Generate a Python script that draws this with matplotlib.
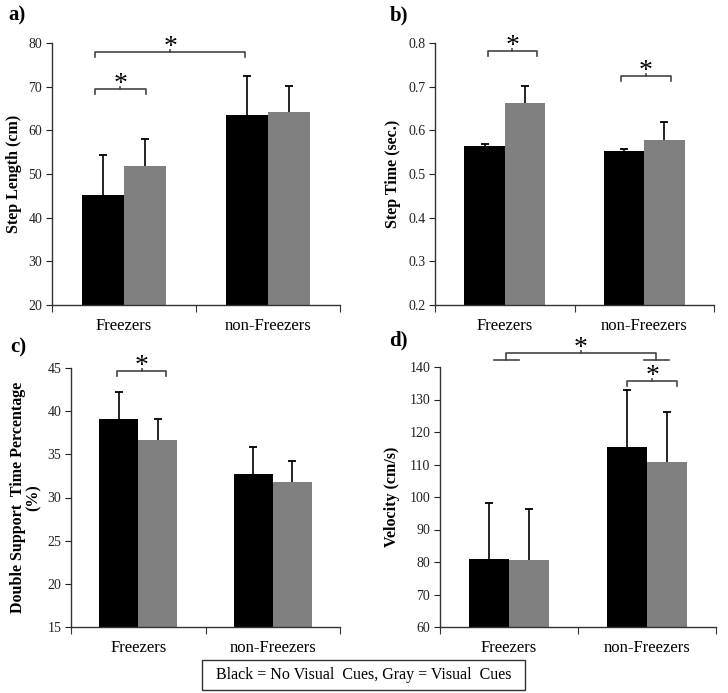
import numpy as np
import matplotlib.pyplot as plt
from matplotlib.patches import Rectangle

plt.rcParams['font.family'] = ['Liberation Serif', 'DejaVu Serif']

categories = ['Freezers', 'non-Freezers']

# a) step length (cm)
step_len_black = [45.2, 63.4]
step_len_black_err = [9.2, 9.1]
step_len_gray = [51.9, 64.1]
step_len_gray_err = [6.1, 6.0]

# b) step time (sec.)
step_time_black = [0.564, 0.552]
step_time_black_err = [0.005, 0.006]
step_time_gray = [0.663, 0.579]
step_time_gray_err = [0.039, 0.041]

# c) double support time (%)
dst_black = [39.1, 32.7]
dst_black_err = [3.1, 3.15]
dst_gray = [36.66, 31.8]
dst_gray_err = [2.44, 2.4]

# d) velocity (cm/s)
vel_black = [81.0, 115.5]
vel_black_err = [17.3, 17.3]
vel_gray = [80.7, 110.7]
vel_gray_err = [15.5, 15.4]

fig = plt.figure(figsize=(7.28, 6.93), dpi=100)

W, H = 728, 693


def add_ax(left, top, right, bottom):
    return fig.add_axes([left / W, 1 - bottom / H, (right - left) / W, (bottom - top) / H])


def draw_panel(ax, black, black_err, gray, gray_err, ylim, yticks, fmt, ylabel, label_x):
    x = np.arange(len(categories))
    w = 0.29
    ax.bar(x - w / 2, black, w, color='black', zorder=2)
    ax.bar(x + w / 2, gray, w, color='#808080', zorder=2)
    for xs, vals, errs in [(x - w / 2, black, black_err), (x + w / 2, gray, gray_err)]:
        tops = np.array(vals) + np.array(errs)
        ax.vlines(xs, vals, tops, color='black', lw=1.2, zorder=3)
        ax.plot(xs, tops, ls='none', marker='_', ms=6, mew=1.3, color='black', zorder=3)
    ax.set_xlim(-0.5, 1.5)
    ax.set_ylim(*ylim)
    ax.set_yticks(yticks)
    ax.set_yticklabels([fmt.format(t) for t in yticks])
    ax.set_xticks([-0.5, 0.5, 1.5])
    ax.set_xticklabels([])
    ax.set_xticks(x, minor=True)
    ax.set_xticklabels(categories, minor=True, fontsize=12)
    ax.tick_params(axis='x', which='minor', length=0, pad=9)
    ax.tick_params(axis='x', which='major', length=5, direction='out', color='#333333')
    ax.tick_params(axis='y', length=4, direction='out', labelsize=10, colors='#222222', pad=3)
    for s in ['top', 'right']:
        ax.spines[s].set_visible(False)
    for s in ['left', 'bottom']:
        ax.spines[s].set_color('#333333')
        ax.spines[s].set_linewidth(1.0)
    ax.set_ylabel(ylabel, fontsize=11.5, fontweight='bold', linespacing=1.0)
    ax.yaxis.set_label_coords(label_x, 0.5)


def bracket(ax, x0, x1, y, star=True, xm=None):
    lo, hi = ax.get_ylim()
    r = hi - lo
    drop = 0.019 * r
    rise = 0.008 * r
    if xm is None:
        xm = (x0 + x1) / 2
    ax.plot([x0, x0, x1, x1], [y - drop, y, y, y - drop], color='#444444', lw=1.2, clip_on=False)
    ax.plot([xm, xm], [y, y + rise], color='#444444', lw=1.2, clip_on=False)
    if star:
        ax.annotate('*', xy=(xm, y + rise), xytext=(0, -3), textcoords='offset points',
                    ha='center', va='baseline', fontsize=20, annotation_clip=False)


ax_a = add_ax(52, 43, 340, 305)
draw_panel(ax_a, step_len_black, step_len_black_err, step_len_gray, step_len_gray_err,
           (20, 80), np.arange(20, 81, 10), '{:.0f}', 'Step Length (cm)', -0.104)
bracket(ax_a, -0.2, 0.15, 69.5)
bracket(ax_a, -0.2, 0.84, 78.0)

ax_b = add_ax(435, 43, 714, 305)
draw_panel(ax_b, step_time_black, step_time_black_err, step_time_gray, step_time_gray_err,
           (0.2, 0.8), np.round(np.arange(0.2, 0.81, 0.1), 1), '{:.1f}', 'Step Time (sec.)', -0.123)
bracket(ax_b, -0.12, 0.23, 0.782)
bracket(ax_b, 0.83, 1.19, 0.724)

ax_c = add_ax(71, 368, 340, 627)
draw_panel(ax_c, dst_black, dst_black_err, dst_gray, dst_gray_err,
           (15, 45), np.arange(15, 46, 5), '{:.0f}', 'Double Support  Time Percentage\n(%)', -0.108)
bracket(ax_c, -0.16, 0.21, 44.7)

ax_d = add_ax(440, 367, 716, 627)
draw_panel(ax_d, vel_black, vel_black_err, vel_gray, vel_gray_err,
           (60, 140), np.arange(60, 141, 10), '{:.0f}', 'Velocity (cm/s)', -0.145)
# group markers + between-group bracket
ax_d.plot([-0.11, 0.07], [142.1, 142.1], color='#444444', lw=1.2, clip_on=False)
ax_d.plot([0.98, 1.16], [142.1, 142.1], color='#444444', lw=1.2, clip_on=False)
ax_d.plot([-0.02, -0.02, 1.065, 1.065], [142.1, 144.3, 144.3, 142.1], color='#444444', lw=1.2, clip_on=False)
ax_d.plot([0.52, 0.52], [144.3, 145.0], color='#444444', lw=1.2, clip_on=False)
ax_d.annotate('*', xy=(0.52, 145.0), xytext=(0, -3), textcoords='offset points',
              ha='center', va='baseline', fontsize=20, annotation_clip=False)
bracket(ax_d, 0.857, 1.22, 135.7)

# panel tags
for tag, px, py in [('a)', 8, 15.5), ('b)', 390, 15.5), ('c)', 10, 347.5), ('d)', 389, 340.5)]:
    fig.text(px / W, 1 - py / H, tag, fontsize=15, fontweight='bold', ha='left', va='center')

# legend box
fig.add_artist(Rectangle((202 / W, 1 - 690 / H), 323 / W, 30 / H, transform=fig.transFigure,
                         fill=False, edgecolor='#333333', lw=1.0))
fig.text(363.5 / W, 1 - 675 / H, 'Black = No Visual  Cues, Gray = Visual  Cues',
         fontsize=11.5, ha='center', va='center')

fig.savefig('out.png', dpi=100)
